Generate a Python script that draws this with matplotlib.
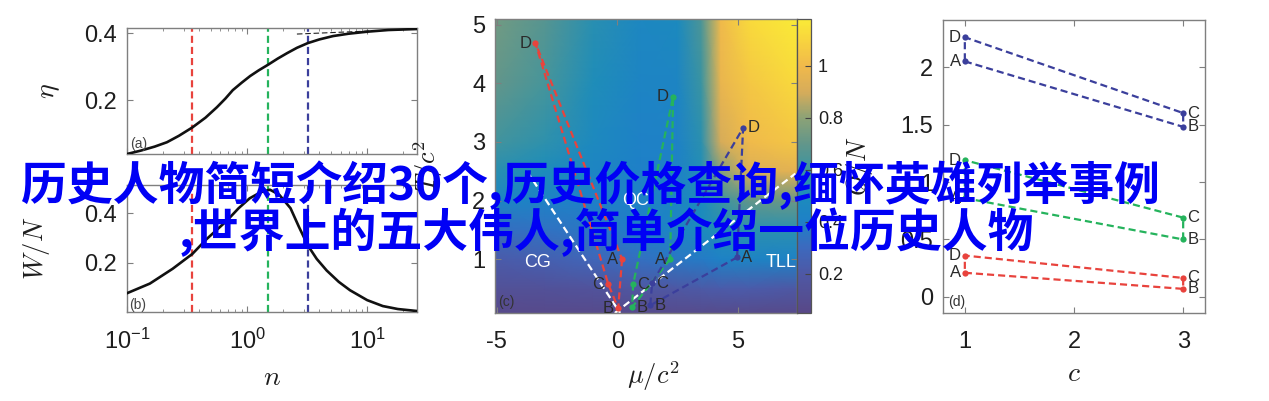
import numpy as np
import matplotlib
matplotlib.use('Agg')
import matplotlib.pyplot as plt
from matplotlib.colors import LinearSegmentedColormap
from matplotlib.ticker import LogLocator, NullFormatter

plt.rcParams['font.family'] = ['Liberation Sans', 'DejaVu Sans']
plt.rcParams['mathtext.fontset'] = 'cm'

W, H = 1269, 401

# ---- panel (a): efficiency eta vs n
n_eta = [0.1, 0.13, 0.17, 0.215, 0.27, 0.35, 0.45, 0.56, 0.66, 0.76, 0.9, 1.06,
         1.25, 1.5, 1.8, 2.15, 2.6, 3.2, 4.0, 5.2, 7.0, 10, 15, 26]
eta = [0.04, 0.05, 0.062, 0.075, 0.094, 0.119, 0.148, 0.179, 0.205, 0.23, 0.252, 0.272,
       0.289, 0.306, 0.324, 0.34, 0.356, 0.37, 0.381, 0.391, 0.398, 0.404, 0.409, 0.412]
n_asym = [2.6, 26]
eta_asym = [0.397, 0.412]

# ---- panel (b): work per particle vs n
n_work = [0.1, 0.155, 0.24, 0.35, 0.46, 0.68, 0.85, 1.05, 1.3, 1.55, 1.85, 2.3, 2.7,
          3.2, 3.8, 4.6, 5.8, 7.2, 10, 13.5, 18, 26]
work = [0.076, 0.115, 0.175, 0.235, 0.295, 0.37, 0.42, 0.46, 0.485, 0.495, 0.475, 0.42,
        0.345, 0.27, 0.215, 0.168, 0.122, 0.088, 0.048, 0.024, 0.012, 0.004]

# marked values of n (red, green, blue)
n_marks = [0.35, 1.5, 3.2]
cycle_colors = ['#e8433d', '#25b35c', '#3b3f9c']

# ---- panel (c): background map on (mu, T) grid
mu_grid = [-5.1, -3, -1, 1, 2.5, 3.5, 4.3, 5.5, 7.5]
T_grid = [0.08, 0.5, 1, 1.5, 2, 2.5, 3, 4, 5.1]
Z = [
    [0.07, 0.07, 0.07, 0.08, 0.08, 0.08, 0.08, 0.08, 0.07],
    [0.13, 0.14, 0.16, 0.19, 0.20, 0.21, 0.22, 0.22, 0.20],
    [0.22, 0.25, 0.28, 0.33, 0.36, 0.38, 0.42, 0.43, 0.42],
    [0.32, 0.34, 0.36, 0.40, 0.44, 0.48, 0.52, 0.55, 0.55],
    [0.44, 0.42, 0.40, 0.42, 0.44, 0.50, 0.60, 0.70, 0.72],
    [0.54, 0.50, 0.44, 0.40, 0.42, 0.52, 0.78, 0.92, 0.95],
    [0.62, 0.56, 0.47, 0.41, 0.42, 0.55, 0.90, 1.00, 1.05],
    [0.70, 0.63, 0.51, 0.43, 0.44, 0.60, 0.97, 1.05, 1.12],
    [0.74, 0.67, 0.54, 0.46, 0.48, 0.65, 1.00, 1.12, 1.18],
]
cb_ticks = [0.2, 0.4, 0.6, 0.8, 1]
cb_labels = ['0.2', '0.4', '0.6', '0.8', '1']

# cycle corners A, B, C, D in (mu, T)
cyc_labels = ['A', 'B', 'C', 'D']
red_mu = [0.2, 0.04, -0.37, -3.4]
red_T = [1.0, 0.16, 0.57, 4.69]
green_mu = [2.2, 0.62, 0.66, 2.32]
green_T = [1.0, 0.18, 0.57, 3.77]
blue_mu = [4.98, 1.37, 1.45, 5.23]
blue_T = [1.03, 0.21, 0.59, 3.24]

# phase boundaries (white dashed)
left_mu = [-3.75, 0.12]
left_T = [2.5, 0.08]
right_mu = [-0.1, 7.4]
right_T = [0.08, 2.46]
regions = ['CG', 'QC', 'TLL']
region_mu = [-3.3, 0.75, 6.8]
region_T = [0.95, 2.0, 0.95]

# ---- panel (d): values at c = 1 (A, D) and c = 3 (B, C)
c_vals = [1, 3, 3, 1]
red_d = [0.21, 0.07, 0.165, 0.36]
green_d = [0.86, 0.5, 0.69, 1.19]
blue_d = [2.05, 1.48, 1.6, 2.26]

line1 = '历史人物简短介绍30个,历史价格查询,缅怀英雄列举事例'
line2 = ',世界上的五大伟人,简单介绍一位历史人物'


def box(l, t, r, b):
    return [l / W, 1 - b / H, (r - l) / W, (b - t) / H]


frame = '#7f7f7f'
txt = '#1e1e1e'


def style(ax, xpad=13, ypad=7):
    for s in ax.spines.values():
        s.set_color(frame)
        s.set_linewidth(1.0)
    ax.tick_params(which='both', direction='in', top=True, right=True,
                   color=frame, labelsize=17, labelcolor=txt)
    ax.tick_params(which='major', length=4, width=0.8)
    ax.tick_params(which='minor', length=2.5, width=0.6)
    ax.tick_params(axis='x', pad=xpad)
    ax.tick_params(axis='y', pad=ypad)


fig = plt.figure(figsize=(W / 100, H / 100), dpi=100)
ax_a = fig.add_axes(box(127, 28, 417, 154))
ax_b = fig.add_axes(box(127, 185, 417, 312))
ax_c = fig.add_axes(box(495, 19, 797, 313))
cax = fig.add_axes(box(797, 19, 811, 313))
ax_d = fig.add_axes(box(943, 20, 1205, 313))

dash = (3.2, 1.8)

# (a)
ax_a.plot(n_eta, eta, color='#111111', lw=1.9, zorder=3)
ax_a.plot(n_asym, eta_asym, color='#222222', lw=0.8, dashes=(5, 2.5))
for n, col in zip(n_marks, cycle_colors):
    ax_a.axvline(n, color=col, lw=1.6, dashes=dash)
ax_a.set_xscale('log')
ax_a.set_xlim(0.1, 26)
ax_a.set_ylim(0.04, 0.415)
ax_a.set_yticks([0.2, 0.4], ['0.2', '0.4'])
ax_a.xaxis.set_major_locator(LogLocator(base=10))
ax_a.xaxis.set_minor_locator(LogLocator(base=10, subs=np.arange(2, 10)))
ax_a.xaxis.set_major_formatter(NullFormatter())
ax_a.xaxis.set_minor_formatter(NullFormatter())
style(ax_a)
ax_a.set_ylabel(r'$\eta$', fontsize=20, color=txt)
ax_a.yaxis.set_label_coords((62 - 127) / 290, 0.5)
ax_a.text(0.012, 0.05, '(a)', transform=ax_a.transAxes, fontsize=10, color='#444444')

# (b)
ax_b.plot(n_work, work, color='#111111', lw=1.9, zorder=3)
for n, col in zip(n_marks, cycle_colors):
    ax_b.axvline(n, color=col, lw=1.6, dashes=dash)
ax_b.set_xscale('log')
ax_b.set_xlim(0.1, 26)
ax_b.set_ylim(0, 0.514)
ax_b.set_yticks([0.2, 0.4], ['0.2', '0.4'])
ax_b.xaxis.set_major_locator(LogLocator(base=10))
ax_b.xaxis.set_minor_locator(LogLocator(base=10, subs=np.arange(2, 10)))
ax_b.xaxis.set_minor_formatter(NullFormatter())
style(ax_b, xpad=12)
ax_b.set_ylabel(r'$W/N$', fontsize=19, color=txt)
ax_b.yaxis.set_label_coords((52 - 127) / 290, 0.5)
ax_b.set_xlabel(r'$n$', fontsize=20, color=txt)
ax_b.xaxis.set_label_coords(0.5, (312 - 378) / 127)
ax_b.xaxis.label.set_va('center')
ax_b.text(0.006, 0.0, '(b)', transform=ax_b.transAxes, fontsize=10, color='#444444', va='bottom')

# (c)
colors = [(0.05, (88, 72, 135)), (0.2, (78, 88, 165)), (0.3, (60, 105, 190)),
          (0.4, (30, 128, 200)), (0.5, (28, 140, 188)), (0.6, (58, 148, 162)),
          (0.7, (98, 150, 138)), (0.8, (140, 162, 118)), (0.9, (214, 172, 90)),
          (1.0, (240, 185, 75)), (1.1, (248, 212, 62)), (1.18, (250, 235, 55))]
vmin, vmax = 0.05, 1.18
cmap = LinearSegmentedColormap.from_list(
    'washed_parula',
    [((v - vmin) / (vmax - vmin), tuple(c / 255 for c in rgb)) for v, rgb in colors])
MU, TT = np.meshgrid(mu_grid, T_grid)
mesh = ax_c.pcolormesh(MU, TT, np.array(Z), shading='gouraud', cmap=cmap,
                       vmin=vmin, vmax=vmax, rasterized=True)
ax_c.plot(left_mu, left_T, color='white', lw=1.6, dashes=dash)
ax_c.plot(right_mu, right_T, color='white', lw=1.6, dashes=dash)
for name, m, t in zip(regions, region_mu, region_T):
    ax_c.text(m, t, name, color='white', fontsize=13, ha='center', va='center')

label_side_c = {
    'red': ['left', 'left', 'left', 'left'],
    'green': ['left', 'right', 'right', 'left'],
    'blue': ['right', 'right', 'right', 'right'],
}
for key, mus, Ts, col in [('red', red_mu, red_T, cycle_colors[0]),
                          ('green', green_mu, green_T, cycle_colors[1]),
                          ('blue', blue_mu, blue_T, cycle_colors[2])]:
    ax_c.plot(mus + mus[:1], Ts + Ts[:1], color=col, lw=1.6, dashes=dash)
    ax_c.plot(mus, Ts, 'o', color=col, ms=4.5, mec='none')
    for lab, m, t, side in zip(cyc_labels, mus, Ts, label_side_c[key]):
        off = -3 if side == 'left' else 3
        ax_c.annotate(lab, (m, t), xytext=(off, 0), textcoords='offset points',
                      ha='right' if side == 'left' else 'left', va='center',
                      fontsize=12, color='#2a2a2a')
ax_c.set_xlim(-5.08, 7.47)
ax_c.set_ylim(0.08, 5.1)
ax_c.set_xticks([-5, 0, 5], ['-5', '0', '5'])
ax_c.set_yticks([1, 2, 3, 4, 5], ['1', '2', '3', '4', '5'])
style(ax_c)
ax_c.set_xlabel(r'$\mu/c^2$', fontsize=19, color=txt)
ax_c.xaxis.set_label_coords((653 - 495) / 302, (313 - 376) / 294)
ax_c.xaxis.label.set_va('center')
ax_c.set_ylabel(r'$T/c^2$', fontsize=19, color=txt)
ax_c.yaxis.set_label_coords((445 - 495) / 302, 0.5)
ax_c.text(0.012, 0.012, '(c)', transform=ax_c.transAxes, fontsize=10, color='#333333', va='bottom')

cb = fig.colorbar(mesh, cax=cax)
cb.set_ticks(cb_ticks, labels=cb_labels)
cb.outline.set_edgecolor('#555555')
cb.outline.set_linewidth(0.9)
cax.tick_params(direction='in', length=4, width=0.8, color='#444444', labelsize=13,
                labelcolor=txt, pad=5)

# (d)
label_side_d = ['left', 'right', 'right', 'left']
for vals, col in [(red_d, cycle_colors[0]), (green_d, cycle_colors[1]), (blue_d, cycle_colors[2])]:
    ax_d.plot(c_vals + c_vals[:1], vals + vals[:1], color=col, lw=1.6, dashes=dash)
    ax_d.plot(c_vals, vals, 'o', color=col, ms=4.5, mec='none')
    for lab, c, v, side in zip(cyc_labels, c_vals, vals, label_side_d):
        off = -3 if side == 'left' else 3
        ax_d.annotate(lab, (c, v), xytext=(off, 0), textcoords='offset points',
                      ha='right' if side == 'left' else 'left', va='center',
                      fontsize=12, color='#2a2a2a')
ax_d.set_xlim(0.8, 3.2)
ax_d.set_ylim(-0.14, 2.41)
ax_d.set_xticks([1, 2, 3], ['1', '2', '3'])
ax_d.set_yticks([0, 0.5, 1, 1.5, 2], ['0', '0.5', '1', '1.5', '2'])
style(ax_d)
ax_d.set_xlabel(r'$c$', fontsize=20, color=txt)
ax_d.xaxis.set_label_coords(0.5, (313 - 374) / 293)
ax_d.xaxis.label.set_va('center')
ax_d.set_ylabel(r'$Q/N$', fontsize=19, color=txt)
ax_d.yaxis.set_label_coords((875 - 943) / 262, 0.5)
ax_d.text(0.018, 0.015, '(d)', transform=ax_d.transAxes, fontsize=10, color='#333333', va='bottom')

# overlay caption
cjk = ['Noto Sans CJK SC', 'DejaVu Sans']
fig.text(590 / W, 1 - 200 / H, line1, ha='center', va='baseline', fontsize=33,
         fontweight='bold', color='#0000f5', family=cjk, zorder=10)
fig.text(606 / W, 1 - 247 / H, line2, ha='center', va='baseline', fontsize=33,
         fontweight='bold', color='#0000f5', family=cjk, zorder=10)

fig.savefig('out.png', dpi=100, facecolor='white')
